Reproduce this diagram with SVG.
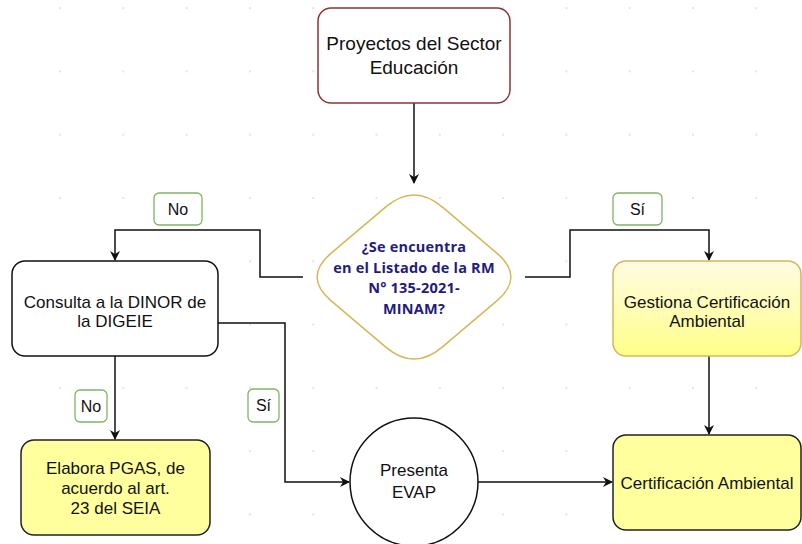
<svg xmlns="http://www.w3.org/2000/svg" width="802" height="544" viewBox="0 0 802 544">
<style>
.t{font-family:"Liberation Sans",Arial,sans-serif;font-size:17px;fill:#111;text-anchor:middle}
.t19{font-size:19px}
.q{font-family:"Open Sans","DejaVu Sans",sans-serif;font-size:14.5px;font-weight:bold;fill:#221c80;text-anchor:middle;letter-spacing:0.2px}
.lb{fill:#fff;stroke:#82b366;stroke-width:1.3}
.lt{font-family:"Liberation Sans",Arial,sans-serif;font-size:16px;fill:#111;text-anchor:middle}
.c{fill:none;stroke:#111;stroke-width:1.5}
</style>
<defs>
<pattern id="grid" patternUnits="userSpaceOnUse" x="28.35" y="166.35" width="63.3" height="63.3">
<circle cx="31.65" cy="31.65" r="0.9" fill="#d8d8d8"/>
</pattern>
<linearGradient id="yg" x1="0" y1="0" x2="0" y2="1">
<stop offset="0" stop-color="#fffbe3"/>
<stop offset="1" stop-color="#ffff88"/>
</linearGradient>
<marker id="ah" viewBox="0 0 10 10" refX="9" refY="5" markerWidth="10" markerHeight="10" markerUnits="userSpaceOnUse" orient="auto">
<path d="M0,0 L10,5 L0,10 L3,5 Z" fill="#111"/>
</marker>
</defs>
<rect width="802" height="544" fill="#fff"/>
<rect width="802" height="544" fill="url(#grid)"/>

<g id="connectors">
<path class="c" d="M414,103 V183" marker-end="url(#ah)"/>
<path class="c" d="M303,277 H260 V230 H115 V260" marker-end="url(#ah)"/>
<path class="c" d="M525,277 H570 V230 H709 V260" marker-end="url(#ah)"/>
<path class="c" d="M115,356 V439" marker-end="url(#ah)"/>
<path class="c" d="M218,323 H285 V482 H349" marker-end="url(#ah)"/>
<path class="c" d="M478,482 H612" marker-end="url(#ah)"/>
<path class="c" d="M709,356 V434" marker-end="url(#ah)"/>
<g id="label-no-1"><rect class="lb" x="154" y="193" width="48" height="32" rx="5"/><text class="lt" x="178" y="215">No</text></g>
<g id="label-si-1"><rect class="lb" x="613" y="193" width="49" height="32" rx="5"/><text class="lt" x="637.5" y="215">Sí</text></g>
<g id="label-no-2"><rect class="lb" x="75" y="390" width="32" height="32" rx="5"/><text class="lt" x="91" y="412">No</text></g>
<g id="label-si-2"><rect class="lb" x="248" y="389" width="31" height="33" rx="5"/><text class="lt" x="263.5" y="411">Sí</text></g>
</g>

<g id="n-proyectos">
<rect x="318" y="8" width="192" height="95" rx="13" fill="#fff" stroke="#8b3535" stroke-width="1.5"/>
<text class="t t19" x="414" y="50">Proyectos del Sector</text>
<text class="t t19" x="414" y="74">Educación</text>
</g>

<g id="n-decision">
<path d="M442.2,206.9 L496.8,253.1 Q525,277 496.8,300.9 L442.2,347.1 Q414,371 385.8,347.1 L331.2,300.9 Q303,277 331.2,253.1 L385.8,206.9 Q414,183 442.2,206.9 Z" fill="#fff" stroke="#d6b656" stroke-width="1.5"/>
<text class="q" x="414" y="252">¿Se encuentra</text>
<text class="q" x="414" y="272.5">en el Listado de la RM</text>
<text class="q" x="414" y="293">N° 135-2021-</text>
<text class="q" x="414" y="313.5">MINAM?</text>
</g>

<g id="n-consulta">
<rect x="12" y="261" width="206" height="95" rx="13" fill="#fff" stroke="#111" stroke-width="1.5"/>
<text class="t" x="115" y="308">Consulta a la DINOR de</text>
<text class="t" x="115" y="327">la DIGEIE</text>
</g>

<g id="n-gestiona">
<rect x="613" y="261" width="188" height="95" rx="13" fill="url(#yg)" stroke="#d6b656" stroke-width="1.5"/>
<text class="t" x="707" y="308">Gestiona Certificación</text>
<text class="t" x="707" y="327">Ambiental</text>
</g>

<g id="n-pgas">
<rect x="21" y="440" width="189" height="95" rx="13" fill="#ffff9e" stroke="#222" stroke-width="1.5"/>
<text class="t" x="115.5" y="474">Elabora PGAS, de</text>
<text class="t" x="115.5" y="494">acuerdo al art.</text>
<text class="t" x="115.5" y="514">23 del SEIA</text>
</g>

<g id="n-evap">
<circle cx="414" cy="482" r="64" fill="#fff" stroke="#111" stroke-width="1.5"/>
<text class="t" x="414" y="476">Presenta</text>
<text class="t" x="414" y="498">EVAP</text>
</g>

<g id="n-cert">
<rect x="613" y="435" width="188" height="95" rx="13" fill="#ffff9e" stroke="#222" stroke-width="1.5"/>
<text class="t" x="707" y="489">Certificación Ambiental</text>
</g>
</svg>
